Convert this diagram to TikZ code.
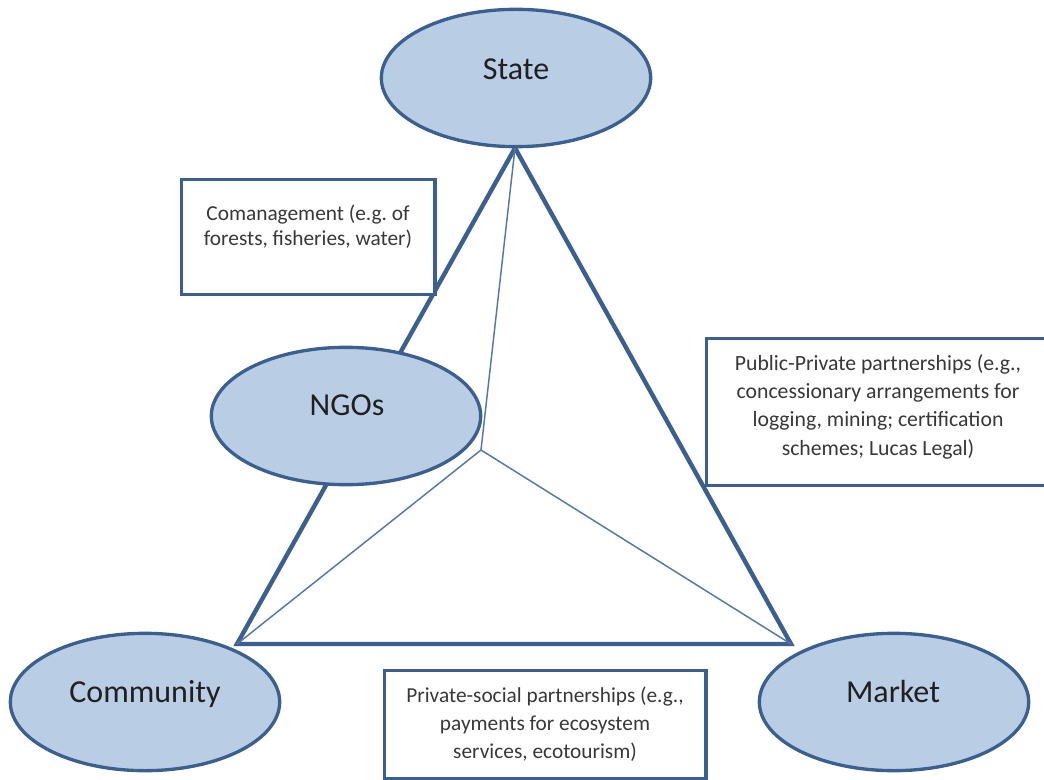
\documentclass[tikz,border=0pt]{standalone}
\usepackage{fontspec}
\setmainfont{Carlito}
\usetikzlibrary{shapes.geometric}
\definecolor{edgeblue}{HTML}{3B6090}
\definecolor{thinblue}{HTML}{5478A6}
\definecolor{fillblue}{HTML}{B9CDE5}
\definecolor{txt}{HTML}{202020}
\definecolor{boxtxt}{HTML}{383838}
\frenchspacing
\tikzset{
  actor/.style={ellipse, draw=edgeblue, line width=2.5pt, fill=fillblue, inner sep=0pt,
    minimum width=202pt, minimum height=103pt},
  actorlabel/.style={anchor=base, inner sep=0pt, font=\fontsize{24}{28}\selectfont, text=txt},
  infobox/.style={draw=edgeblue, line width=2.4pt, fill=white, inner sep=0pt},
  boxtext/.style={anchor=north, inner sep=0pt, align=center, text=boxtxt},
  sideline/.style={draw=edgeblue, line width=3.3pt, line join=miter},
  innerline/.style={draw=thinblue, line width=1.1pt}
}
\newcommand{\firststrut}{\rule{0pt}{12pt}}
\begin{document}
\begin{tikzpicture}[x=0.75pt, y=-0.75pt]
\useasboundingbox (0,0) rectangle (1044,780);
% triangle corners
\coordinate (apex) at (515,148);
\coordinate (cL) at (237,644);
\coordinate (cR) at (791,644);
\coordinate (ctr) at (481,450);
% lines
\draw[sideline] (apex) -- (cL) -- (cR) -- cycle;
\draw[innerline] (apex) -- (ctr);
\draw[innerline] (ctr) -- (cL);
\draw[innerline] (ctr) -- (cR);
% actors
\node[actor] (state) at (516,78) {};
\node[actorlabel] (statel) at (516,80) {State};
\node[actor] (ngo) at (346,416) {};
\node[actorlabel] (ngol) at (347,415) {NGOs};
\node[actor] (community) at (145,702) {};
\node[actorlabel] (communityl) at (145,702) {Community};
\node[actor] (market) at (894,702) {};
\node[actorlabel] (marketl) at (893,702) {Market};
% boxes
\node[infobox, minimum width=190pt, minimum height=86pt, anchor=north west] (como) at (180,178) {};
\node[boxtext, font=\fontsize{16}{18.8}\selectfont] (comotext) at (308,204)
  {\firststrut Comanagement (e.g. of\\forests, fisheries, water)};
\node[infobox, minimum width=258pt, minimum height=110pt, anchor=north west] (ppp) at (705,337) {};
\node[boxtext, font=\fontsize{16.3}{21.2}\selectfont] (ppptext) at (878,354)
  {\firststrut Public-Private partnerships (e.g.,\\concessionary arrangements for\\logging, mining; certification\\schemes; Lucas Legal)};
\node[infobox, minimum width=241pt, minimum height=81pt, anchor=north west] (psp) at (383,669) {};
\node[boxtext, font=\fontsize{16}{21.2}\selectfont] (psptext) at (545,686)
  {\firststrut Private-social partnerships (e.g.,\\payments for ecosystem\\services, ecotourism)};
\end{tikzpicture}
\end{document}
